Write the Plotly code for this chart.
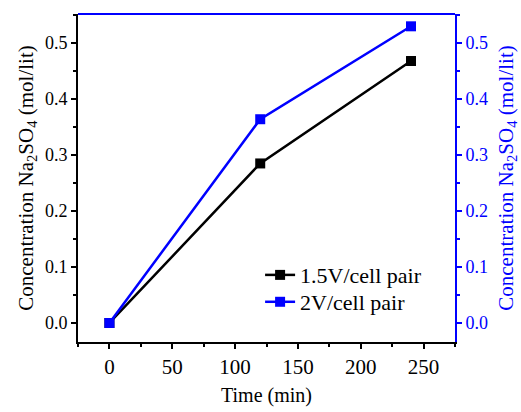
import plotly.graph_objects as go

time_min = [0, 120, 240]
conc_15v = [0.0, 0.285, 0.468]
conc_2v = [0.0, 0.364, 0.530]
series_names = ["1.5V/cell pair", "2V/cell pair"]
x_ticks = [0, 50, 100, 150, 200, 250]
y_ticks = [0.0, 0.1, 0.2, 0.3, 0.4, 0.5]

FONT = "Liberation Serif"
BLUE = "#0000ff"

fig = go.Figure()
fig.add_trace(go.Scatter(
    x=time_min, y=conc_15v, name=series_names[0], mode="lines+markers",
    line=dict(color="black", width=2.5),
    marker=dict(symbol="square", size=10, color="black"),
    yaxis="y", legend="legend"))
fig.add_trace(go.Scatter(
    x=time_min, y=conc_2v, name=series_names[1], mode="lines+markers",
    line=dict(color=BLUE, width=2.5),
    marker=dict(symbol="square", size=10, color=BLUE),
    yaxis="y2", legend="legend2"))

yrange = [-0.034, 0.552]
ytitle = "Concentration Na<sub>2</sub>SO<sub>4</sub> (mol/lit)"

legend_common = dict(x=0.483, xanchor="left", yanchor="middle",
                     bgcolor="rgba(0,0,0,0)", font=dict(size=22, family=FONT),
                     itemwidth=30)

fig.update_layout(
    width=521, height=412,
    margin=dict(l=78, r=66, t=14, b=70),
    plot_bgcolor="white", paper_bgcolor="white",
    font=dict(family=FONT, size=18, color="black"),
    showlegend=True,
    legend=dict(y=0.204, **legend_common),
    legend2=dict(y=0.122, **legend_common),
    xaxis=dict(range=[-25, 275], tickvals=x_ticks, showgrid=False, zeroline=False,
               automargin=False,
               showline=True, linecolor="black", linewidth=2,
               ticks="outside", ticklen=5, tickwidth=2, tickcolor="black",
               minor=dict(dtick=25, tick0=0, ticks="outside", ticklen=3, tickwidth=2, tickcolor="black"),
               title=dict(text="Time (min)", font=dict(size=20), standoff=10),
               tickfont=dict(size=21)),
    yaxis=dict(range=yrange, tickvals=y_ticks, tickformat=".1f", showgrid=False, zeroline=False,
               automargin=False,
               showline=True, linecolor="black", linewidth=2,
               ticks="outside", ticklen=5, tickwidth=2, tickcolor="black",
               minor=dict(dtick=0.05, tick0=0, ticks="outside", ticklen=3, tickwidth=2, tickcolor="black"),
               title=dict(text=ytitle, font=dict(size=21), standoff=6),
               tickfont=dict(size=18)),
    yaxis2=dict(range=yrange, tickvals=y_ticks, tickformat=".1f", overlaying="y", side="right",
                automargin=False,
                showgrid=False, zeroline=False,
                showline=True, linecolor=BLUE, linewidth=2,
                ticks="outside", ticklen=5, tickwidth=2, tickcolor=BLUE,
                minor=dict(dtick=0.05, tick0=0, ticks="outside", ticklen=3, tickwidth=2, tickcolor=BLUE),
                title=dict(text=ytitle, font=dict(size=21, color=BLUE), standoff=11),
                tickfont=dict(size=18, color=BLUE)),
    shapes=[dict(type="line", xref="paper", yref="paper", x0=0, x1=1, y0=1, y1=1,
                 line=dict(color=BLUE, width=2))],
)

fig.write_html("out.html", config={"displayModeBar": False},
               post_script="document.body.style.margin='0';")
